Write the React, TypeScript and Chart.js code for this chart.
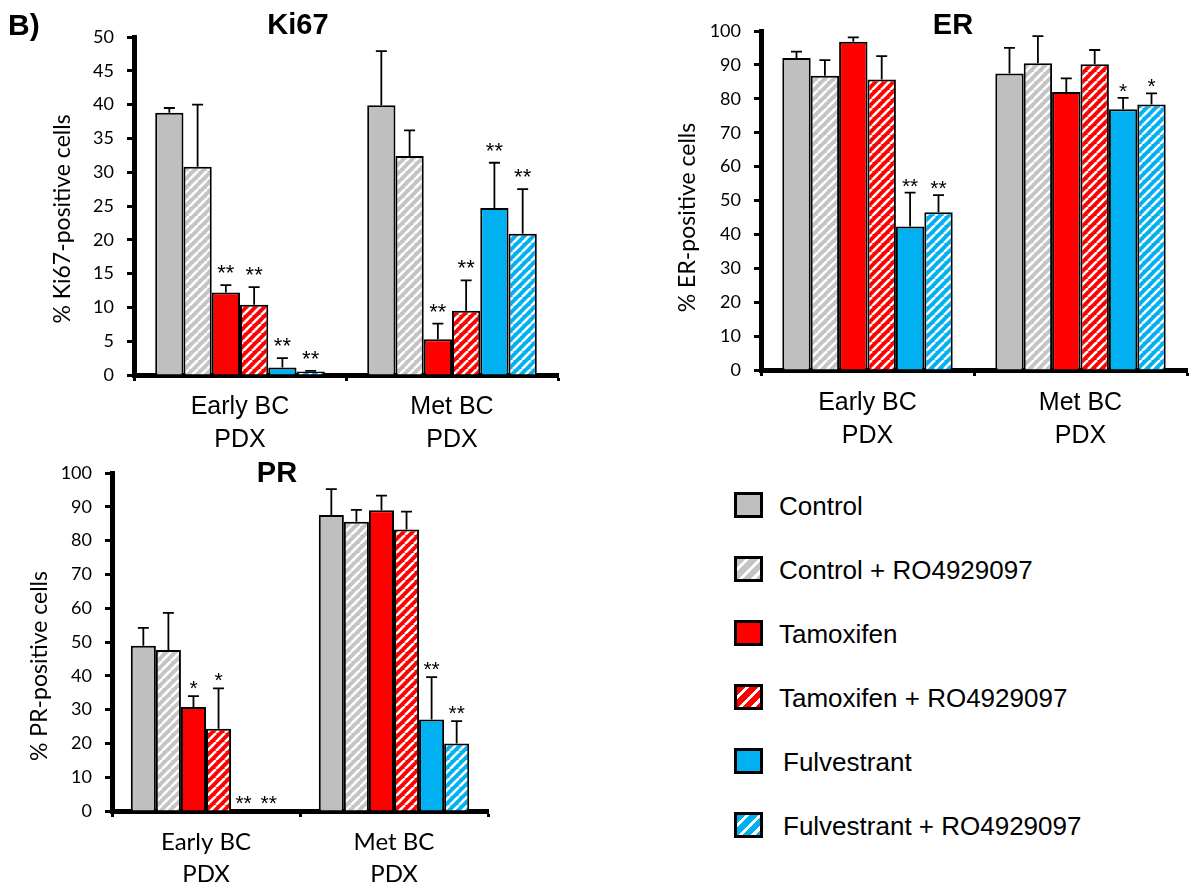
import React, { useEffect, useRef } from "react";
import { Chart, registerables } from "chart.js";

Chart.register(...registerables);

// ---------- data ----------
const categories = [["Early BC", "PDX"], ["Met BC", "PDX"]];
const treatments = [
  "Control",
  "Control + RO4929097",
  "Tamoxifen",
  "Tamoxifen + RO4929097",
  "Fulvestrant",
  "Fulvestrant + RO4929097",
];
const treatmentColors = ["#BFBFBF", "#C4C4C4", "#FF0000", "#FF0000", "#00B0F0", "#00B0F0"];
const treatmentHatched = [false, true, false, true, false, true];

// Ki67 (% positive cells), order follows treatments
const ki67Early = [38.8, 30.8, 12.2, 10.4, 1.1, 0.5];
const ki67EarlyErr = [0.7, 9.2, 1.1, 2.6, 1.4, 0.1];
const ki67EarlyStars = ["", "", "**", "**", "**", "**"];
const ki67Met = [39.9, 32.4, 5.3, 9.5, 24.7, 20.9];
const ki67MetErr = [8.0, 3.8, 2.3, 4.5, 6.7, 6.6];
const ki67MetStars = ["", "", "**", "**", "**", "**"];

// ER
const erEarly = [92.0, 86.8, 96.8, 85.7, 42.3, 46.5];
const erEarlyErr = [1.9, 4.6, 1.3, 6.9, 10.0, 5.1];
const erEarlyStars = ["", "", "", "", "**", "**"];
const erMet = [87.5, 90.5, 82.0, 90.2, 76.9, 78.3];
const erMetErr = [7.5, 8.0, 4.0, 4.2, 3.4, 3.3];
const erMetStars = ["", "", "", "", "*", "*"];

// PR
const prEarly = [48.9, 47.6, 30.8, 24.3, 0, 0];
const prEarlyErr = [5.3, 11.0, 3.2, 12.0, 0, 0];
const prEarlyStars = ["", "", "*", "*", "**", "**"];
const prMet = [87.6, 85.6, 89.0, 83.3, 27.1, 20.0];
const prMetErr = [7.6, 3.5, 4.3, 5.3, 12.5, 6.6];
const prMetStars = ["", "", "", "", "**", "**"];

const ki67Max = 50;
const ki67Step = 5;
const pctMax = 100;
const pctStep = 10;

// ---------- helpers ----------
function hatch(color: string) {
  const s = 9;
  const c = document.createElement("canvas");
  c.width = s;
  c.height = s;
  const g = c.getContext("2d")!;
  g.fillStyle = color;
  g.fillRect(0, 0, s, s);
  g.strokeStyle = "#FFFFFF";
  g.lineWidth = 2.6;
  for (const k of [-s, 0, s]) {
    g.beginPath();
    g.moveTo(k, s);
    g.lineTo(k + s, 0);
    g.stroke();
  }
  return g.createPattern(c, "repeat");
}

const decorPlugin = {
  id: "decor",
  afterDatasetsDraw(chart: any, _args: any, o: any) {
    const { ctx } = chart;
    const yScale = chart.scales.y;
    ctx.save();
    chart.data.datasets.forEach((ds: any, di: number) => {
      const meta = chart.getDatasetMeta(di);
      meta.data.forEach((bar: any, i: number) => {
        const v = ds.data[i];
        const e = ds.errors[i];
        const yTop = yScale.getPixelForValue(v + e);
        if (e > 0) {
          ctx.strokeStyle = "#000";
          ctx.lineWidth = 1.8;
          ctx.beginPath();
          ctx.moveTo(bar.x, bar.y);
          ctx.lineTo(bar.x, yTop);
          ctx.moveTo(bar.x - 5.5, yTop);
          ctx.lineTo(bar.x + 5.5, yTop);
          ctx.stroke();
        }
        const s = ds.stars[i];
        if (s) {
          ctx.fillStyle = "#000";
          ctx.font = o.starFont;
          ctx.textAlign = "center";
          ctx.textBaseline = "alphabetic";
          ctx.fillText(s, bar.x, yTop - o.starLift);
        }
      });
    });
    ctx.restore();
  },
  afterDraw(chart: any, _args: any, o: any) {
    const { ctx, chartArea } = chart;
    ctx.save();
    ctx.fillStyle = "#000";
    ctx.font = o.titleFont;
    ctx.textAlign = "center";
    ctx.textBaseline = "alphabetic";
    ctx.fillText(o.title, chartArea.left + o.titleDx, o.titleBaseline);
    ctx.translate(chartArea.left - o.yTitleDx, (chartArea.top + chartArea.bottom) / 2 + o.yTitleDy);
    ctx.rotate(-Math.PI / 2);
    ctx.font = o.yTitleFont;
    ctx.textBaseline = "middle";
    ctx.fillText(o.yTitle, 0, 0);
    ctx.restore();
  },
};

type Panel = {
  title: string;
  yTitle: string;
  early: number[];
  earlyErr: number[];
  earlyStars: string[];
  met: number[];
  metErr: number[];
  metStars: string[];
  max: number;
  step: number;
  left: number;
  top: number;
  width: number;
  height: number;
  yWidth: number;
  xHeight: number;
  padTop: number;
  padRight: number;
  tickFont: string;
  tickSize: number;
  catFont: string;
  catSize: number;
  catLine: number;
  catPad: number;
  titleDx: number;
  titleBaseline: number;
  yTitleFont: string;
  yTitleDx: number;
  yTitleDy: number;
  starFont: string;
  starLift: number;
};

function BarPanel({ p }: { p: Panel }) {
  const ref = useRef<HTMLCanvasElement>(null);
  useEffect(() => {
    const datasets = treatments.map((name, i) => ({
      label: name,
      data: [p.early[i], p.met[i]],
      errors: [p.earlyErr[i], p.metErr[i]],
      stars: [p.earlyStars[i], p.metStars[i]],
      backgroundColor: treatmentHatched[i] ? hatch(treatmentColors[i]) : treatmentColors[i],
      borderColor: "#000",
      borderWidth: 2,
      categoryPercentage: 0.8,
      barPercentage: 1.0,
    }));
    const chart = new Chart(ref.current!, {
      type: "bar",
      data: { labels: categories as any, datasets: datasets as any },
      plugins: [decorPlugin as any],
      options: {
        responsive: false,
        animation: false,
        devicePixelRatio: 1,
        layout: { padding: { top: p.padTop, right: p.padRight, left: 0, bottom: 0 } },
        plugins: {
          legend: { display: false },
          tooltip: { enabled: false },
          title: { display: false },
          decor: {
            title: p.title,
            titleFont: "bold 29px 'Liberation Sans', Arial, sans-serif",
            titleDx: p.titleDx,
            titleBaseline: p.titleBaseline,
            yTitle: p.yTitle,
            yTitleFont: p.yTitleFont,
            yTitleDx: p.yTitleDx,
            yTitleDy: p.yTitleDy,
            starFont: p.starFont,
            starLift: p.starLift,
          },
        } as any,
        scales: {
          x: {
            z: 1,
            grid: {
              display: true,
              offset: true,
              drawOnChartArea: false,
              drawTicks: true,
              tickLength: 6,
              tickWidth: 3,
              tickColor: "#000",
              color: "#000",
            },
            border: { display: true, width: 5, color: "#000" },
            ticks: {
              color: "#000",
              font: { family: p.catFont, size: p.catSize, lineHeight: p.catLine },
              padding: p.catPad,
              maxRotation: 0,
              autoSkip: false,
            },
            afterFit: (s: any) => {
              s.height = p.xHeight;
            },
          },
          y: {
            z: 1,
            min: 0,
            max: p.max,
            ticks: {
              stepSize: p.step,
              color: "#000",
              font: { family: p.tickFont, size: p.tickSize },
              padding: 13,
            },
            grid: {
              display: true,
              drawOnChartArea: false,
              drawTicks: true,
              tickLength: 7,
              tickWidth: 3,
              tickColor: "#000",
              color: "#000",
            },
            border: { display: true, width: 5, color: "#000" },
            afterFit: (s: any) => {
              s.width = p.yWidth;
            },
          },
        } as any,
      },
    });
    return () => chart.destroy();
  }, [p]);
  return (
    <canvas
      ref={ref}
      width={p.width}
      height={p.height}
      style={{ position: "absolute", left: p.left, top: p.top, width: p.width, height: p.height }}
    />
  );
}

const ki67Panel: Panel = {
  title: "Ki67",
  yTitle: "% Ki67-positive cells",
  early: ki67Early,
  earlyErr: ki67EarlyErr,
  earlyStars: ki67EarlyStars,
  met: ki67Met,
  metErr: ki67MetErr,
  metStars: ki67MetStars,
  max: ki67Max,
  step: ki67Step,
  left: 0,
  top: 0,
  width: 600,
  height: 460,
  yWidth: 134,
  xHeight: 85,
  padTop: 37,
  padRight: 42,
  tickFont: "Lato, 'Noto Sans', sans-serif",
  tickSize: 18,
  catFont: "'Liberation Sans', Arial, sans-serif",
  catSize: 25,
  catLine: 1.34,
  catPad: 9,
  titleDx: 164,
  titleBaseline: 34,
  yTitleFont: "23px Lato, 'Noto Sans', sans-serif",
  yTitleDx: 71,
  yTitleDy: 13,
  starFont: "22px 'Liberation Sans', Arial, sans-serif",
  starLift: 5,
};

const erPanel: Panel = {
  ...ki67Panel,
  title: "ER",
  yTitle: "% ER-positive cells",
  early: erEarly,
  earlyErr: erEarlyErr,
  earlyStars: erEarlyStars,
  met: erMet,
  metErr: erMetErr,
  metStars: erMetStars,
  max: pctMax,
  step: pctStep,
  left: 620,
  top: 0,
  width: 569,
  height: 460,
  yWidth: 141,
  xHeight: 90,
  padTop: 31,
  padRight: 2,
  catPad: 10,
  titleDx: 192,
  titleBaseline: 34,
  yTitleDx: 73,
  yTitleDy: 17,
  starFont: "21px 'Liberation Sans', Arial, sans-serif",
  starLift: 0,
};

const prPanel: Panel = {
  ...ki67Panel,
  title: "PR",
  yTitle: "% PR-positive cells",
  early: prEarly,
  earlyErr: prEarlyErr,
  earlyStars: prEarlyStars,
  met: prMet,
  metErr: prMetErr,
  metStars: prMetStars,
  max: pctMax,
  step: pctStep,
  left: 0,
  top: 445,
  width: 520,
  height: 441,
  yWidth: 112,
  xHeight: 75,
  padTop: 28,
  padRight: 32,
  catFont: "Lato, 'Noto Sans', sans-serif",
  catSize: 24,
  catLine: 1.33,
  catPad: 9,
  titleDx: 165,
  titleBaseline: 482 - 445,
  yTitleDx: 72,
  yTitleDy: 24,
  starFont: "21px 'Liberation Sans', Arial, sans-serif",
  starLift: 1,
};

function swatchBackground(i: number) {
  const c = treatmentColors[i];
  if (!treatmentHatched[i]) return c;
  return `repeating-linear-gradient(135deg, ${c} 0px, ${c} 6px, #FFFFFF 6px, #FFFFFF 9px)`;
}

export default function App() {
  return (
    <div
      style={{
        position: "absolute",
        left: 0,
        top: 0,
        width: 1189,
        height: 886,
        overflow: "hidden",
        background: "#FFFFFF",
      }}
    >
      <BarPanel p={ki67Panel} />
      <BarPanel p={erPanel} />
      <BarPanel p={prPanel} />
      <div
        style={{
          position: "absolute",
          left: 8,
          top: 10,
          font: "bold 30px 'Liberation Sans', Arial, sans-serif",
          lineHeight: 1,
        }}
      >
        B)
      </div>
      <div style={{ position: "absolute", left: 734, top: 492 }}>
        {treatments.map((t, i) => (
          <div key={t} style={{ display: "flex", alignItems: "center", height: 64 }}>
            <div
              style={{
                width: 29,
                height: 26,
                boxSizing: "border-box",
                border: "3px solid #000",
                background: swatchBackground(i),
                alignSelf: "flex-start",
              }}
            />
            <div
              style={{
                marginLeft: i >= 4 ? 20 : 16,
                font: "26px 'Liberation Sans', Arial, sans-serif",
                alignSelf: "flex-start",
                marginTop: -3,
                lineHeight: "34px",
                whiteSpace: "nowrap",
              }}
            >
              {t}
            </div>
          </div>
        ))}
      </div>
    </div>
  );
}
